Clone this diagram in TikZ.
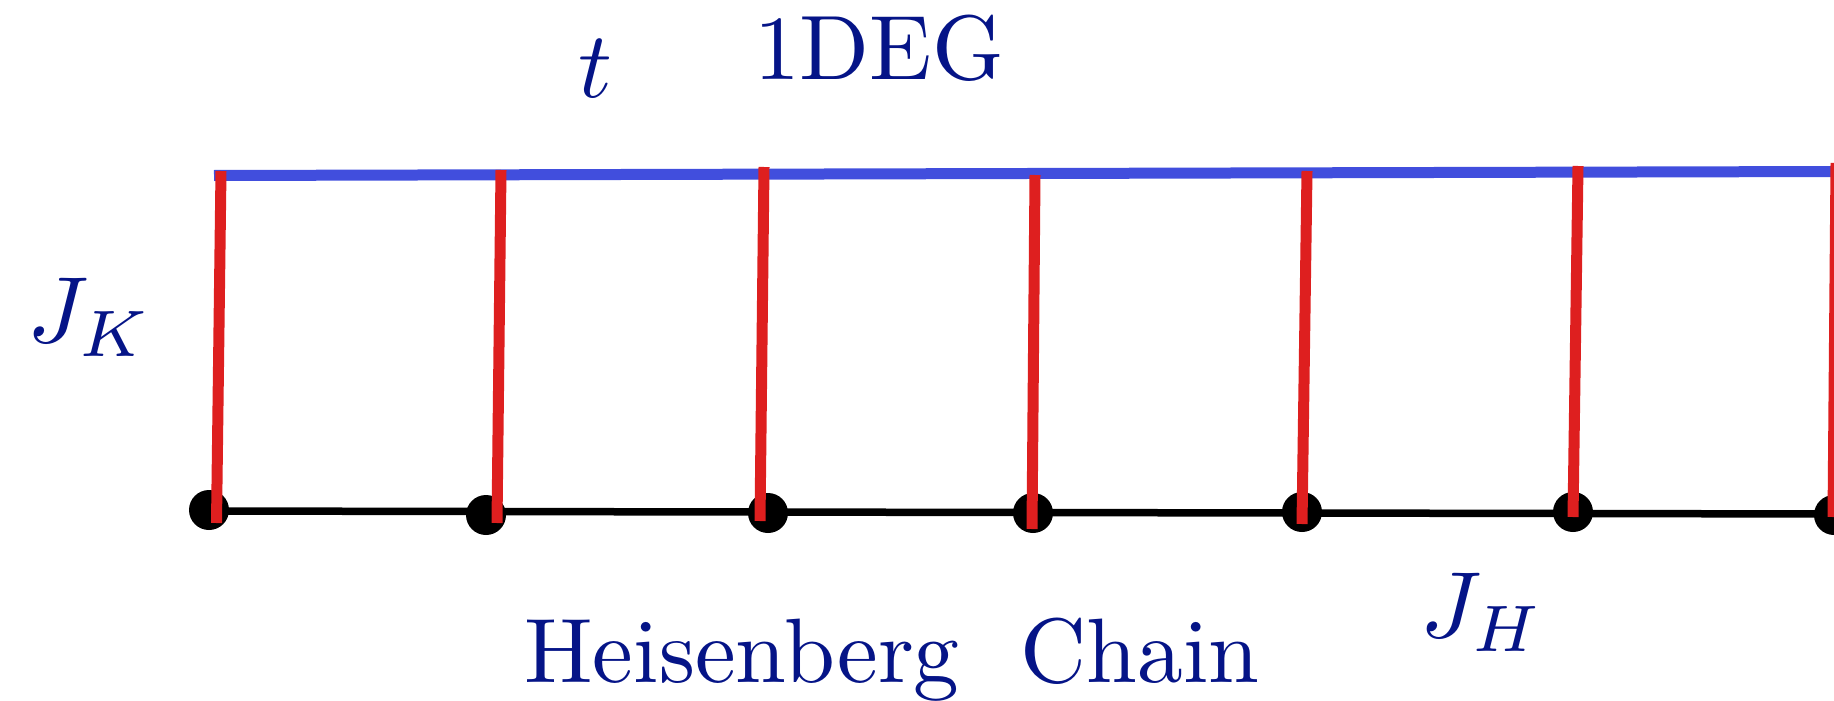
\documentclass[tikz,border=0pt]{standalone}
\definecolor{chainblue}{RGB}{65,78,221}
\definecolor{rungred}{RGB}{222,31,31}
\definecolor{labelnavy}{RGB}{5,20,135}
\tikzset{
  site/.style={circle,fill=black,draw=none,minimum size=40pt,inner sep=0pt},
  chainline/.style={draw=black,line width=7.5pt},
  egline/.style={draw=chainblue,line width=11pt},
  rung/.style={draw=rungred,line width=11pt},
  bigtext/.style={inner sep=0pt,text=labelnavy,font=\normalsize,scale=9.15,anchor=base},
  bigmath/.style={inner sep=0pt,text=labelnavy,font=\normalsize,scale=9.4,anchor=base}
}
\begin{document}
\begin{tikzpicture}[x=1pt,y=-1pt]
\useasboundingbox (0,0) rectangle (1834,701);
% chain end points and 1DEG end points
\coordinate (cl) at (209,511);
\coordinate (cr) at (1840,514);
\coordinate (el) at (214,175.5);
\coordinate (er) at (1840,171.5);
\draw[chainline] (cl) -- (cr);
\draw[egline] (el) -- (er);
% sites
\node[site] (d1) at (209,510) {};
\node[site] (d2) at (486,515) {};
\node[site] (d3) at (768,513) {};
\node[site] (d4) at (1033,513) {};
\node[site] (d5) at (1302,512) {};
\node[site] (d6) at (1573,512) {};
\node[site] (d7) at (1834,515) {};
% rung ends
\coordinate (u1) at (221,171);  \coordinate (b1) at (216.5,523);
\coordinate (u2) at (501,170);  \coordinate (b2) at (497,523);
\coordinate (u3) at (764,167);  \coordinate (b3) at (760,521);
\coordinate (u4) at (1035,175); \coordinate (b4) at (1032,529);
\coordinate (u5) at (1307,171); \coordinate (b5) at (1302,524);
\coordinate (u6) at (1578,166); \coordinate (b6) at (1573,517);
\coordinate (u7) at (1836,163); \coordinate (b7) at (1833,517);
\foreach \i in {1,...,7} { \draw[rung] (u\i) -- (b\i); }
% labels
\node[bigmath] (tlab) at (595,97) {$t$};
\node[bigtext] (deg) at (879,80) {1DEG};
\node[bigmath] (jk) at (90,342) {$J_K$};
\node[bigtext] (hc) at (892,682) {Heisenberg\ \ Chain};
\node[bigmath] (jh) at (1482,637) {$J_H$};
\end{tikzpicture}
\end{document}
